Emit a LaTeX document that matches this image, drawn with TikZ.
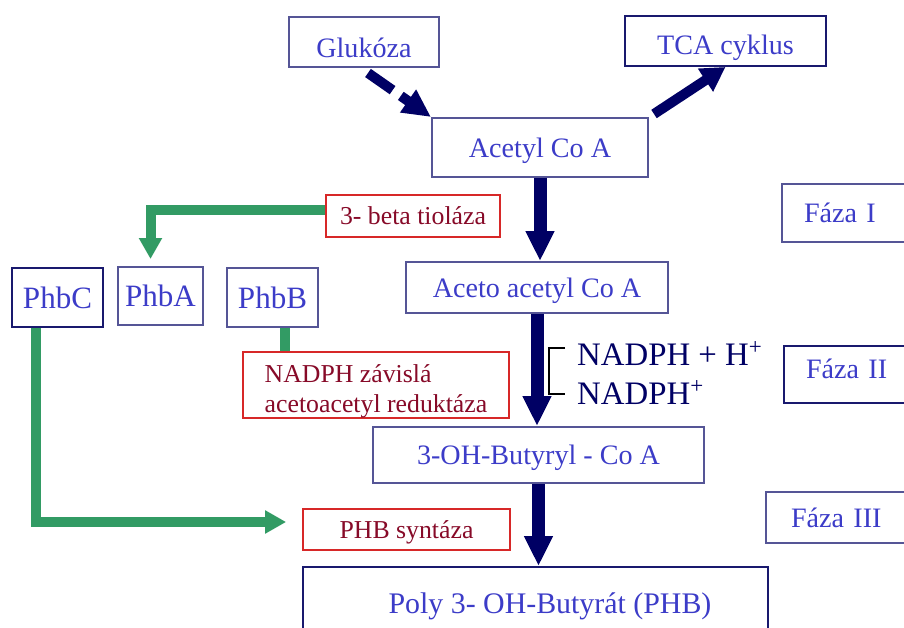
\documentclass[tikz,border=0pt]{standalone}
\usepackage{fontspec}
\setmainfont{Liberation Serif}
\usepackage{xcolor}
\usetikzlibrary{arrows.meta,calc}

\definecolor{boxblue}{RGB}{60,60,200}
\definecolor{boxline}{RGB}{85,85,150}
\definecolor{darkline}{RGB}{25,25,110}
\definecolor{arrownavy}{RGB}{0,0,100}
\definecolor{enzred}{RGB}{215,40,40}
\definecolor{enztext}{RGB}{135,10,40}
\definecolor{pathgreen}{RGB}{50,155,100}

\tikzset{
  stage/.style={draw=boxline, line width=1.7pt, fill=white, text=boxblue, inner sep=0pt,
    font=\fontsize{24}{28}\selectfont, text height=16.3pt, text depth=0pt},
  gene/.style={stage, font=\fontsize{26.5}{30}\selectfont, text height=18pt},
  faza/.style={stage, anchor=west, text width=2.9cm, align=left, inner xsep=0.66cm},
  enzyme/.style={draw=enzred, line width=1.5pt, fill=white, text=enztext, inner sep=0pt,
    font=\fontsize{22}{25.6}\selectfont},
  enzline/.style={enzyme, text height=15pt, text depth=0pt},
  cofactor/.style={text=arrownavy, inner sep=0pt, anchor=west,
    font=\fontsize{28}{32}\selectfont, text height=19pt, text depth=0pt},
  mainflow/.style={draw=arrownavy, line width=0.39cm, -{Triangle[width=0.81cm,length=0.9cm]}},
  sideflow/.style={draw=arrownavy, line width=0.3cm, -{Triangle[width=0.78cm,length=0.72cm]}},
  genearrow/.style={draw=pathgreen, line width=0.3cm, -{Triangle[width=0.66cm,length=0.63cm]}},
  geneline/.style={draw=pathgreen, line width=0.3cm}
}

\begin{document}
\begin{tikzpicture}[x=0.03cm, y=-0.03cm]
  \useasboundingbox (0,0) rectangle (904,628);

  % main pathway
  \node[stage, text height=26.4pt, minimum width=4.5cm, minimum height=1.5cm] (gluk) at (364,42) {Glukóza};
  \node[stage, draw=darkline, text height=22.8pt, minimum width=6.03cm, minimum height=1.5cm] (tca) at (725.5,41) {TCA cyklus};
  \node[stage, minimum width=6.48cm, minimum height=1.77cm] (acetyl) at (540,147.5) {Acetyl Co A};
  \node[stage, minimum width=7.86cm, minimum height=1.53cm] (aceto) at (537,287.5) {Aceto acetyl Co A};
  \node[stage, minimum width=9.93cm, minimum height=1.68cm] (ohbut) at (538.5,455) {3-OH-Butyryl - Co A};
  \node[stage, draw=darkline, font=\fontsize{25.5}{30}\selectfont, text height=17.3pt,
    minimum width=13.95cm, minimum height=2.19cm] (poly) at (535.5,603.5) {\hspace{0.87cm}Poly 3- OH-Butyrát (PHB)};

  % genes and enzymes
  \node[gene, draw=darkline, minimum width=2.73cm, minimum height=1.77cm] (phbc) at (57.5,297.5) {PhbC};
  \node[gene, minimum width=2.55cm, minimum height=1.74cm] (phba) at (160.5,296) {PhbA};
  \node[gene, minimum width=2.73cm, minimum height=1.77cm] (phbb) at (272.5,297.5) {PhbB};
  \node[enzline, minimum width=5.22cm, minimum height=1.26cm] (tiol) at (413,216) {3- beta tioláza};
  \node[enzyme, align=left, minimum width=7.98cm, minimum height=1.92cm] (nadr) at (376,385)
    {\rule{0pt}{1.2em}NADPH závislá\\acetoacetyl reduktáza};
  \node[enzline, minimum width=6.21cm, minimum height=1.23cm] (phbsyn) at (406.5,529.5) {PHB syntáza\hspace{0.84cm}};

  % phases
  \node[faza, minimum height=1.74cm] (faza1) at (781,213) {Fáza I};
  \node[faza, draw=darkline, text depth=9.6pt, minimum height=1.71cm] (faza2) at (783,374.5) {Fáza II};
  \node[faza, inner xsep=0.75cm, minimum height=1.53cm] (faza3) at (765,517.5) {Fáza III};

  % cofactors
  \node[cofactor] (nadph1) at (577,354) {NADPH + H\textsuperscript{+}};
  \node[cofactor] (nadph2) at (577,393) {NADPH\textsuperscript{+}};
  \draw[black, line width=1.2pt] ($(nadph1.west)+(-12,-6)$) -| ($(nadph2.west)+(-28,1)$) -- ($(nadph2.west)+(-12,1)$);

  % arrows
  \draw[sideflow, dash pattern=on 0.9cm off 0.3cm, -{Triangle[width=0.78cm,length=0.84cm]}]
    ($(gluk.south)+(4,5)$) -- (acetyl.north west);
  \draw[sideflow] ($(acetyl.north east)+(5,-3)$) -- (tca.south);
  \draw[mainflow] (acetyl.south) -- (acetyl.south |- aceto.north);
  \draw[mainflow] (aceto.south) -- (aceto.south |- ohbut.north);
  \draw[mainflow] (ohbut.south) -- (ohbut.south |- poly.north);

  \draw[genearrow] ($(tiol.west)+(0,-6)$) -| ($(phba.north)+(-10,-7)$);
  \coordinate (bstub) at ($(phbb.south)+(12,0)$);
  \draw[geneline] (bstub) -- (bstub |- nadr.north);
  \draw[genearrow] ($(phbc.south)+(-22,0)$) |- ($(phbsyn.west)+(-16,-7.5)$);
\end{tikzpicture}
\end{document}
